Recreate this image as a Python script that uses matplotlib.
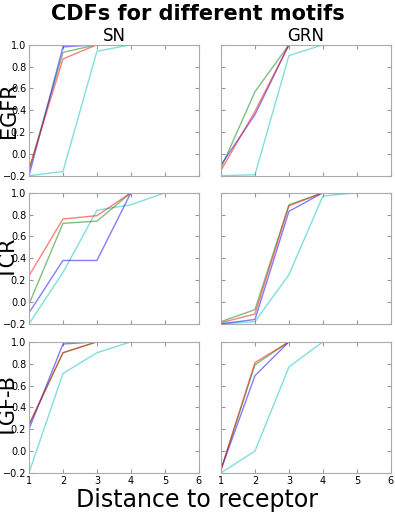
import matplotlib
matplotlib.use("Agg")
import matplotlib.pyplot as plt

distance = [1, 2, 3, 4, 5, 6]
motifs = ["EGFR", "TCR", "TGF-B"]
networks = ["SN", "GRN"]

# curvas (vermelho, verde, azul, ciano) para cada motivo / rede
egfr_sn = {
    "r": [-0.14, 0.87, 1.0, 1.0, 1.0, 1.0],
    "g": [-0.15, 0.93, 1.0, 1.0, 1.0, 1.0],
    "b": [-0.20, 0.98, 1.0, 1.0, 1.0, 1.0],
    "c": [-0.20, -0.16, 0.94, 1.0, 1.0, 1.0],
}
egfr_grn = {
    "r": [-0.15, 0.39, 1.0, 1.0, 1.0, 1.0],
    "g": [-0.13, 0.57, 1.0, 1.0, 1.0, 1.0],
    "b": [-0.10, 0.36, 1.0, 1.0, 1.0, 1.0],
    "c": [-0.20, -0.19, 0.90, 1.0, 1.0, 1.0],
}
tcr_sn = {
    "r": [0.24, 0.76, 0.79, 1.0, 1.0, 1.0],
    "g": [-0.02, 0.72, 0.74, 1.0, 1.0, 1.0],
    "b": [-0.10, 0.38, 0.38, 1.0, 1.0, 1.0],
    "c": [-0.20, 0.27, 0.84, 0.89, 1.0, 1.0],
}
tcr_grn = {
    "r": [-0.19, -0.11, 0.88, 1.0, 1.0, 1.0],
    "g": [-0.18, -0.07, 0.89, 1.0, 1.0, 1.0],
    "b": [-0.20, -0.16, 0.83, 1.0, 1.0, 1.0],
    "c": [-0.20, -0.18, 0.25, 0.97, 1.0, 1.0],
}
tgfb_sn = {
    "r": [0.24, 0.90, 1.0, 1.0, 1.0, 1.0],
    "g": [0.24, 0.90, 1.0, 1.0, 1.0, 1.0],
    "b": [0.20, 0.98, 1.0, 1.0, 1.0, 1.0],
    "c": [-0.20, 0.71, 0.90, 1.0, 1.0, 1.0],
}
tgfb_grn = {
    "r": [-0.17, 0.81, 1.0, 1.0, 1.0, 1.0],
    "g": [-0.17, 0.79, 1.0, 1.0, 1.0, 1.0],
    "b": [-0.17, 0.69, 1.0, 1.0, 1.0, 1.0],
    "c": [-0.20, 0.00, 0.77, 1.0, 1.0, 1.0],
}
curves = [[egfr_sn, egfr_grn], [tcr_sn, tcr_grn], [tgfb_sn, tgfb_grn]]

fig = plt.figure(figsize=(3.95, 5.14), dpi=100)

lefts = [0.0734, 0.5595]
bottoms = [0.658, 0.370, 0.080]
w, h = 0.430, 0.255

for i in range(3):
    for j in range(2):
        ax = fig.add_axes([lefts[j], bottoms[i], w, h])
        for c in ["c", "g", "b", "r"]:
            ax.plot(distance, curves[i][j][c], color=c, alpha=0.5, lw=1)
        ax.set_xlim(1, 6)
        ax.set_ylim(-0.2, 1.0)
        ax.set_xticks(distance)
        ax.set_yticks([-0.2, 0.0, 0.2, 0.4, 0.6, 0.8, 1.0])
        ax.tick_params(direction="in", top=True, right=True, labelsize=7,
                       length=3, color="#999999", pad=2)
        for s in ax.spines.values():
            s.set_color("#aaaaaa")
        if i < 2:
            ax.set_xticklabels([])
        if j == 1:
            ax.set_yticklabels([])
        else:
            # rótulo da linha sobreposto aos ticks, como no original
            fig.text(0.023, bottoms[i] + h * 0.5, motifs[i], rotation=90,
                     ha="center", va="center", fontsize=15)
        if i == 0:
            ax.set_title(networks[j], fontsize=12, pad=2)

fig.text(0.5, 0.972, "CDFs for different motifs", ha="center", va="center",
         fontsize=15, fontweight="bold")
fig.text(0.5, 0.027, "Distance to receptor", ha="center", va="center",
         fontsize=17)

plt.savefig("out.png", dpi=100)
